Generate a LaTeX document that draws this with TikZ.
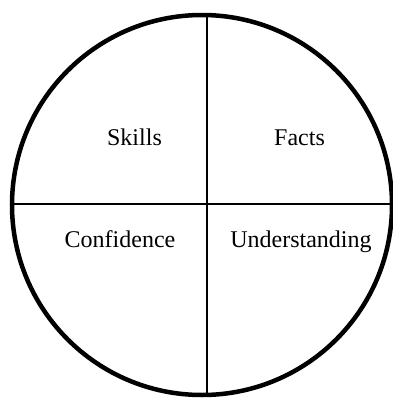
\documentclass[tikz,border=0pt]{standalone}
\usepackage{fontspec}
\setmainfont{Liberation Serif}
\begin{document}
\begin{tikzpicture}[x=1pt,y=1pt,
  rim/.style={line width=4.5pt},
  divider/.style={line width=2pt},
  quadlabel/.style={anchor=base,inner sep=0pt,font=\fontsize{24}{28}\selectfont}]
\useasboundingbox (0,0) rectangle (393,-399);
% circle centre and the crossing of the dividing lines
\coordinate (c) at (202,-205);
\coordinate (x) at (207,-203.5);
\coordinate (top) at (207,0);
\coordinate (bot) at (207,-420);
\coordinate (lft) at (0,-203.5);
\coordinate (rgt) at (420,-203.5);
% dividing lines, kept inside the circle
\begin{scope}
  \clip (c) circle[radius=190];
  \draw[divider] (top) -- (bot);
  \draw[divider] (lft) -- (rgt);
\end{scope}
\draw[rim] (c) circle[radius=190];
% quadrant labels
\node[quadlabel] (skills) at (134.5,-145) {Skills};
\node[quadlabel] (facts) at (299.5,-145) {Facts};
\node[quadlabel] (conf) at (120,-247) {Confidence};
\node[quadlabel] (under) at (301,-247) {Understanding};
\end{tikzpicture}
\end{document}
